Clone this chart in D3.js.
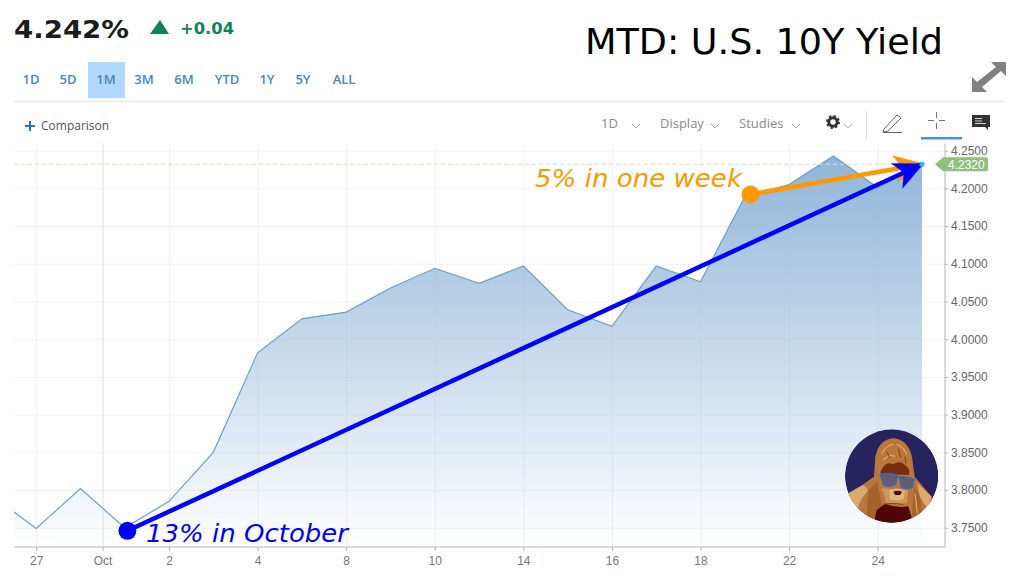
<!DOCTYPE html>
<html>
<head>
<meta charset="utf-8">
<script src="https://cdn.jsdelivr.net/npm/d3@7"></script>
<style>
html, body { margin: 0; padding: 0; background: #fff; }
svg { display: block; }
text { font-family: "Open Sans", sans-serif; }
</style>
</head>
<body>
<div id="chart"></div>
<script>
// session index runs along the x axis, -1 is the point cut off by the left edge
var sessions = [-1, 0, 1, 2, 3, 4, 5, 6, 7, 8, 9, 10, 11, 12, 13, 14, 15, 16, 17, 18, 19, 20];
var yields = [3.793, 3.749, 3.802, 3.750, 3.785, 3.850, 3.982, 4.027, 4.036, 4.068, 4.094,
    4.074, 4.097, 4.039, 4.017, 4.097, 4.076, 4.189, 4.205, 4.243, 4.201, 4.232];
var xTickSessions = [0, 1.5, 3, 5, 7, 9, 11, 13, 15, 17, 19];
var xTickLabels = ["27", "Oct", "2", "4", "8", "10", "14", "16", "18", "22", "24"];
var yTicks = [3.75, 3.80, 3.85, 3.90, 3.95, 4.00, 4.05, 4.10, 4.15, 4.20, 4.25];
var lastYield = 4.232;
var rangeButtons = ["1D", "5D", "1M", "3M", "6M", "YTD", "1Y", "5Y", "ALL"];
var rangeCentres = [31, 68, 106, 144, 184, 227, 267, 303, 344];
var toolbarLabels = ["1D", "Display", "Studies"];
var toolbarStarts = [601, 660, 739];
var blueArrow = {from: [2.06, 3.746], to: [20, 4.232], label: "13% in October"};
var orangeArrow = {from: [16.13, 4.192], to: [20, 4.232], label: "5% in one week"};

var width = 1024, height = 576;
var left = 14, right = 945, top_ = 143.4, bottom = 547;

var svg = d3.select("#chart").append("svg").attr("width", width).attr("height", height);
var defs = svg.append("defs");

var x = d3.scaleLinear().domain([-0.5, 20.52]).range([left, right]);
var y = d3.scaleLinear().domain([3.7245, 4.2596]).range([bottom, top_]);

var fade = defs.append("linearGradient").attr("id", "fade")
    .attr("gradientUnits", "userSpaceOnUse")
    .attr("x1", 0).attr("x2", 0).attr("y1", 150).attr("y2", bottom);
fade.append("stop").attr("offset", "0%").attr("stop-color", "#8fb4d8");
fade.append("stop").attr("offset", "100%").attr("stop-color", "#8fb4d8").attr("stop-opacity", 0);

defs.append("clipPath").attr("id", "plot").append("rect")
    .attr("x", left).attr("y", top_).attr("width", right - left).attr("height", bottom - top_);

// grid
var yGrid = svg.append("g").attr("transform", "translate(" + left + ",0)")
    .call(d3.axisRight(y).tickValues(yTicks).tickSize(right - left).tickFormat(""));
yGrid.select(".domain").remove();
yGrid.selectAll("line").attr("stroke", "#f3f3f3");

var xGrid = svg.append("g").attr("transform", "translate(0," + bottom + ")")
    .call(d3.axisTop(x).tickValues(xTickSessions).tickSize(bottom - top_).tickFormat(""));
xGrid.select(".domain").remove();
xGrid.selectAll("line").attr("stroke", function(d) { return d === 1.5 ? "#dedede" : "#f1f1f1"; });

// series
var points = sessions.map(function(s, i) { return [s, yields[i]]; });
var plot = svg.append("g").attr("clip-path", "url(#plot)");
plot.append("path").datum(points).attr("fill", "url(#fade)")
    .attr("d", d3.area().x(function(d) { return x(d[0]); }).y0(bottom).y1(function(d) { return y(d[1]); }));
plot.append("path").datum(points).attr("fill", "none").attr("stroke", "#6aa0cb").attr("stroke-width", 1.2)
    .attr("d", d3.line().x(function(d) { return x(d[0]); }).y(function(d) { return y(d[1]); }));

// last value guide
svg.append("line").attr("x1", left).attr("x2", x(20)).attr("y1", y(lastYield)).attr("y2", y(lastYield))
    .attr("stroke", "#cfe5c0").attr("stroke-dasharray", "4,3");

// axes
var xAxis = svg.append("g").attr("transform", "translate(0," + bottom + ")")
    .call(d3.axisBottom(x).tickValues(xTickSessions).tickSize(4).tickPadding(5)
        .tickFormat(function(d, i) { return xTickLabels[i]; }));
xAxis.select(".domain").attr("stroke", "#b4b4b4").attr("d", "M" + left + ",0H" + right);
xAxis.selectAll("line").attr("stroke", "#b4b4b4");
xAxis.selectAll("text").attr("fill", "#777").style("font-size", "12px").style("font-family", "'Liberation Sans'");

var yAxis = svg.append("g").attr("transform", "translate(" + right + ",0)")
    .call(d3.axisRight(y).tickValues(yTicks).tickSize(3).tickPadding(3).tickFormat(d3.format(".4f")));
yAxis.select(".domain").attr("stroke", "#b4b4b4").attr("d", "M0," + top_ + "V" + bottom);
yAxis.selectAll("line").attr("stroke", "#b4b4b4");
yAxis.selectAll("text").attr("fill", "#666").style("font-size", "12px").style("font-family", "'Liberation Sans'");

// last value tag
svg.append("path").attr("fill", "#8fc07f")
    .attr("d", "M935," + y(lastYield) + "l8,-7h43a2,2 0 0 1 2,2v10a2,2 0 0 1 -2,2h-43z");
svg.append("text").attr("x", 948).attr("y", y(lastYield) + 4.5).attr("fill", "#fff")
    .style("font-family", "'Liberation Sans'").style("font-size", "12px").text("4.2320");

// header
svg.append("text").attr("x", 14).attr("y", 38).attr("fill", "#1c1c1c").attr("textLength", 115).attr("lengthAdjust", "spacingAndGlyphs")
    .style("font-family", "'DejaVu Sans'").style("font-weight", 700).style("font-size", "25px").text("4.242%");
svg.append("path").attr("fill", "#0b8457").attr("d", "M150,34L160,20L169,34Z");
svg.append("text").attr("x", 180).attr("y", 34).attr("fill", "#0b8457").attr("textLength", 54).attr("lengthAdjust", "spacingAndGlyphs")
    .style("font-family", "'DejaVu Sans'").style("font-weight", 700).style("font-size", "15px").text("+0.04");
svg.append("text").attr("x", 585).attr("y", 54).attr("fill", "#000").attr("textLength", 358).attr("lengthAdjust", "spacingAndGlyphs")
    .style("font-family", "'DejaVu Sans'").style("font-size", "35.5px").text("MTD: U.S. 10Y Yield");

// range buttons
svg.append("rect").attr("x", 88).attr("y", 62).attr("width", 37).attr("height", 36).attr("fill", "#b3d8fd");
svg.selectAll(".range").data(rangeButtons).enter().append("text").attr("class", "range")
    .attr("x", function(d, i) { return rangeCentres[i]; }).attr("y", 84).attr("text-anchor", "middle")
    .attr("fill", "#4a86c0").style("font-size", "13px").style("font-weight", 600)
    .text(function(d) { return d; });
svg.append("line").attr("x1", 14).attr("x2", 1006).attr("y1", 101.5).attr("y2", 101.5).attr("stroke", "#ececec").attr("stroke-width", 1.5);

// expand icon
svg.append("path").attr("fill", "#808080")
    .attr("d", "M972,92V77L977,82L996,67L991,62H1006V76L1001,71L982,87L987,92Z");

// toolbar
svg.append("path").attr("stroke", "#2a6fd0").attr("stroke-width", 2).attr("d", "M25,126H35M30,121V131");
svg.append("text").attr("x", 41).attr("y", 130).attr("fill", "#555").style("font-size", "12px").text("Comparison");
svg.selectAll(".tool").data(toolbarLabels).enter().append("text").attr("class", "tool")
    .attr("x", function(d, i) { return toolbarStarts[i]; }).attr("y", 128)
    .attr("fill", "#8a8a8a").style("font-size", "13px").text(function(d) { return d; });
[[636, 124], [715, 124], [796, 124], [848, 124]].forEach(function(c) {
    svg.append("path").attr("fill", "none").attr("stroke", "#aaa")
        .attr("d", "M" + (c[0] - 4) + "," + c[1] + "l4,4l4,-4");
});
// gear
svg.append("circle").attr("cx", 833).attr("cy", 122).attr("r", 4.2).attr("fill", "none")
    .attr("stroke", "#333").attr("stroke-width", 3);
svg.append("circle").attr("cx", 833).attr("cy", 122).attr("r", 6).attr("fill", "none")
    .attr("stroke", "#333").attr("stroke-width", 2).attr("stroke-dasharray", "2.2,2.5");
svg.append("line").attr("x1", 866.5).attr("x2", 866.5).attr("y1", 111).attr("y2", 140).attr("stroke", "#ddd");
// pencil
svg.append("path").attr("fill", "none").attr("stroke", "#666")
    .attr("d", "M884,129L897,115L901,118L888,131L883,132ZM883,132.5H902");
// crosshair
svg.append("path").attr("stroke", "#777").attr("d", "M928,120.5H934M939,120.5H945M936.5,112V118M936.5,123V129");
svg.append("rect").attr("x", 921).attr("y", 137).attr("width", 41).attr("height", 2.5).attr("fill", "#4a90e8");
// comment
svg.append("path").attr("fill", "#333").attr("d", "M972,115H990V127H988V130L985,127H972Z");
svg.append("path").attr("stroke", "#fff").attr("stroke-width", 0.8).attr("d", "M975,118.5H982M975,121H982M975,123.5H986");

// annotation arrows
function marker(id, colour) {
    defs.append("marker").attr("id", id).attr("markerUnits", "userSpaceOnUse")
        .attr("viewBox", "0 0 30 28").attr("refX", 28).attr("refY", 14)
        .attr("markerWidth", 30).attr("markerHeight", 28).attr("orient", "auto")
        .append("path").attr("fill", colour).attr("d", "M0,0L30,14L0,28L8,14Z");
}
marker("head-orange", "#ff9800");
marker("head-blue", "#0000ff");

function drawArrow(a, colour, head) {
    svg.append("line")
        .attr("x1", x(a.from[0])).attr("y1", y(a.from[1]))
        .attr("x2", x(a.to[0])).attr("y2", y(a.to[1]))
        .attr("stroke", colour).attr("stroke-width", 4.5)
        .attr("marker-end", "url(#" + head + ")");
    svg.append("circle").attr("cx", x(a.from[0])).attr("cy", y(a.from[1])).attr("r", 9).attr("fill", colour);
}
drawArrow(orangeArrow, "#ff9800", "head-orange");
drawArrow(blueArrow, "#0000ff", "head-blue");
svg.append("circle").attr("cx", x(20)).attr("cy", y(lastYield)).attr("r", 2.5).attr("fill", "#22b8f0");

svg.append("text").attr("x", 535).attr("y", 187).attr("fill", "#ff9800").attr("textLength", 207).attr("lengthAdjust", "spacingAndGlyphs")
    .style("font-family", "'DejaVu Sans'").style("font-style", "italic").style("font-size", "25px")
    .text(orangeArrow.label);
svg.append("text").attr("x", 146).attr("y", 542).attr("fill", "#0000ff").attr("textLength", 202).attr("lengthAdjust", "spacingAndGlyphs")
    .style("font-family", "'DejaVu Sans'").style("font-style", "italic").style("font-size", "25px")
    .text(blueArrow.label);

// gorilla badge, drawn in a 315 box matching the crop of the logo
defs.append("clipPath").attr("id", "badge").append("circle").attr("cx", 155).attr("cy", 153).attr("r", 140);
var logo = svg.append("g").attr("transform", "translate(840,425) scale(0.3333)").attr("clip-path", "url(#badge)");
logo.append("circle").attr("cx", 155).attr("cy", 153).attr("r", 140).attr("fill", "#27235f");
var shapes = [
    ["#b9773c", "M25,205L70,178L102,155L106,95Q118,42 160,40Q202,42 216,95L224,155L275,215L295,320H10Z"],
    ["#dcaa70", "M25,205L70,180L85,195L55,235L48,275Z"],
    ["#dcaa70", "M232,175L275,215L262,250L240,215Z"],
    ["#a5622c", "M85,195L112,170L125,240L112,285L80,280Z"],
    ["#a5622c", "M222,185L240,215L250,285L215,290Z"],
    ["#7a2c0c", "M122,140Q135,105 160,118Q185,100 208,135L208,150L122,148Z"],
    ["#cf9458", "M125,190L205,195L200,235L140,235Z"],
    ["#e0b47c", "M148,196Q172,184 196,198L190,222Q170,230 150,222Z"],
    ["#4d0505", "M110,255L135,236Q170,250 205,244L222,300H100Z"],
    ["#4d0505", "M160,200Q172,194 186,200L180,210H166Z"]
];
shapes.forEach(function(s) { logo.append("path").attr("fill", s[0]).attr("d", s[1]); });
// fur streaks
logo.append("path").attr("fill", "none").attr("stroke", "#d9a46a").attr("stroke-width", 4)
    .attr("d", "M125,85Q140,60 160,58M170,58Q190,65 200,88M130,105Q150,85 165,95M65,215L50,255M225,205L232,265");
logo.append("path").attr("fill", "none").attr("stroke", "#8a4014").attr("stroke-width", 3)
    .attr("d", "M140,80L150,100M175,70L182,98M195,95L198,115M130,238Q165,232 190,240");
logo.append("path").attr("fill", "#6d5a68").attr("stroke", "#3a68b0").attr("stroke-width", 6)
    .attr("d", "M122,150Q145,142 170,152L166,176Q150,188 132,180ZM180,157Q200,154 222,164L216,186Q198,194 184,184Z");
logo.append("path").attr("fill", "none").attr("stroke", "#3a68b0").attr("stroke-width", 5).attr("d", "M170,155L180,158");
</script>
</body>
</html>
